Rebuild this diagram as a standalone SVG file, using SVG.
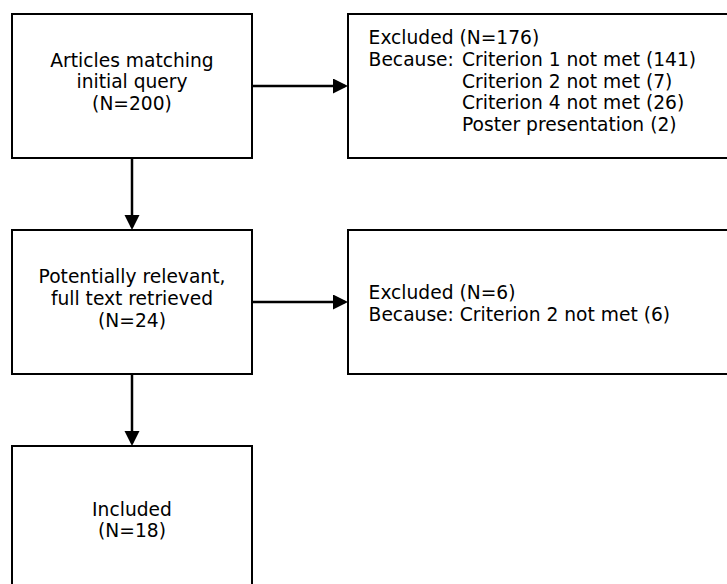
<svg xmlns="http://www.w3.org/2000/svg" width="727" height="584" viewBox="0 0 727 584">
<style>
.box{fill:#fff;stroke:#000;stroke-width:2}
.t{font-family:"DejaVu Sans",Verdana,sans-serif;font-size:18.67px;fill:#000}
.c{text-anchor:middle}
.conn{stroke:#000;stroke-width:2.5;fill:none;marker-end:url(#ah)}
</style>
<defs>
<marker id="ah" markerUnits="userSpaceOnUse" markerWidth="16" markerHeight="16" refX="12" refY="7.5" orient="auto" viewBox="0 0 16 16">
<path d="M0,0 L15,7.5 L0,15 z" fill="#000"/>
</marker>
</defs>
<rect width="727" height="584" fill="#fff"/>
<g id="connectors">
<line class="conn" x1="252" y1="86" x2="345" y2="86"/>
<line class="conn" x1="132" y1="158" x2="132" y2="227"/>
<line class="conn" x1="252" y1="302" x2="345" y2="302"/>
<line class="conn" x1="132" y1="374" x2="132" y2="443"/>
</g>
<g id="articles">
<rect class="box" x="12" y="14" width="240" height="144"/>
<text class="t c" x="132" y="66.6">Articles matching</text>
<text class="t c" x="132" y="88.3">initial query</text>
<text class="t c" x="132" y="110">(N=200)</text>
</g>
<g id="excluded1">
<rect class="box" x="348" y="14" width="400" height="144"/>
<text class="t" x="368.6" y="44.3">Excluded (N=176)</text>
<text class="t" x="368.6" y="66">Because:</text>
<text class="t" x="462" y="66">Criterion 1 not met (141)</text>
<text class="t" x="462" y="87.7">Criterion 2 not met (7)</text>
<text class="t" x="462" y="109.4">Criterion 4 not met (26)</text>
<text class="t" x="462" y="131.1">Poster presentation (2)</text>
</g>
<g id="relevant">
<rect class="box" x="12" y="230" width="240" height="144"/>
<text class="t c" x="132" y="283.3">Potentially relevant,</text>
<text class="t c" x="132" y="305">full text retrieved</text>
<text class="t c" x="132" y="326.7">(N=24)</text>
</g>
<g id="excluded2">
<rect class="box" x="348" y="230" width="400" height="144"/>
<text class="t" x="368.6" y="299">Excluded (N=6)</text>
<text class="t" x="368.6" y="320.7">Because: Criterion 2 not met (6)</text>
</g>
<g id="included">
<rect class="box" x="12" y="446" width="240" height="160"/>
<text class="t c" x="132" y="515.7">Included</text>
<text class="t c" x="132" y="537.4">(N=18)</text>
</g>
</svg>
